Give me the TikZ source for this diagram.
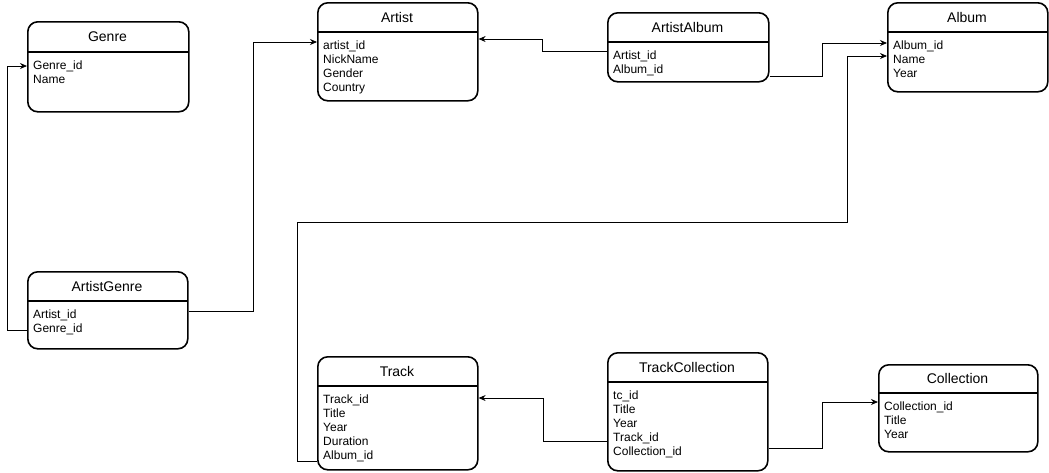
\documentclass[tikz,border=0pt]{standalone}
\usepackage{fontspec}
\setmainfont{Liberation Sans}
\usetikzlibrary{arrows.meta}
\tikzset{
  tbl/.style={draw, line width=1.6pt, rounded corners=10pt, inner sep=0pt, fill=white},
  sep/.style={line width=1.6pt},
  ttl/.style={font=\fontsize{14}{16}\selectfont, inner sep=0pt},
  flds/.style={font=\fontsize{12}{14}\selectfont, align=left, inner sep=0pt, anchor=north west},
  conn/.style={line width=0.8pt, -{Stealth[length=7pt,width=6pt]}},
}
\newcommand\ertable[8]{%
  \node[tbl, minimum width=#4pt, minimum height=#5pt, anchor=north west] (#1) at (#2,#3) {};
  \draw[sep] (#2,{#3+#6}) -- ({#2+#4},{#3+#6});
  \node[ttl] (#1-t) at ({#2+#4/2},{#3+#6/2}) {#7};
  \node[flds] (#1-f) at ({#2+6},{#3+#6+8.5}) {#8};
}
\begin{document}
\begin{tikzpicture}[x=1pt,y=-1pt]
\useasboundingbox (0,0) rectangle (1049,472);
\ertable{genre}{27}{21}{161}{90}{31}{Genre}{Genre\_id\\Name}
\ertable{ag}{27}{271}{160}{77}{30}{ArtistGenre}{Artist\_id\\Genre\_id}
\ertable{artist}{317}{2}{160}{98}{30}{Artist}{artist\_id\\NickName\\Gender\\Country}
\ertable{aa}{607}{12}{161}{69}{30}{ArtistAlbum}{Artist\_id\\Album\_id}
\ertable{album}{887}{2}{160}{89}{30}{Album}{Album\_id\\Name\\Year}
\ertable{track}{317}{356}{160}{113}{30}{Track}{Track\_id\\Title\\Year\\Duration\\Album\_id}
\ertable{tc}{607}{352}{160}{118}{30}{TrackCollection}{tc\_id\\Title\\Year\\Track\_id\\Collection\_id}
\ertable{coll}{878}{364}{159}{87}{29}{Collection}{Collection\_id\\Title\\Year}

\draw[conn] (ag.west |- 0,330) -- (7,330) -- (7,66) -- (genre.west |- 0,66);
\draw[conn] (ag.east |- 0,311) -- (253,311) -- (253,42) -- (artist.west |- 0,42);
\draw[conn] (aa.west |- 0,51) -- (542,51) -- (542,39) -- (artist.east |- 0,39);
\draw[conn] (aa.east |- 0,76) -- (822,76) -- (822,43) -- (album.west |- 0,43);
\draw[conn] (track.west |- 0,461) -- (297,461) -- (297,222) -- (847,222) -- (847,56) -- (album.west |- 0,56);
\draw[conn] (tc.west |- 0,441) -- (543,441) -- (543,398) -- (track.east |- 0,398);
\draw[conn] (tc.east |- 0,448) -- (822,448) -- (822,402) -- (coll.west |- 0,402);
\end{tikzpicture}
\end{document}
